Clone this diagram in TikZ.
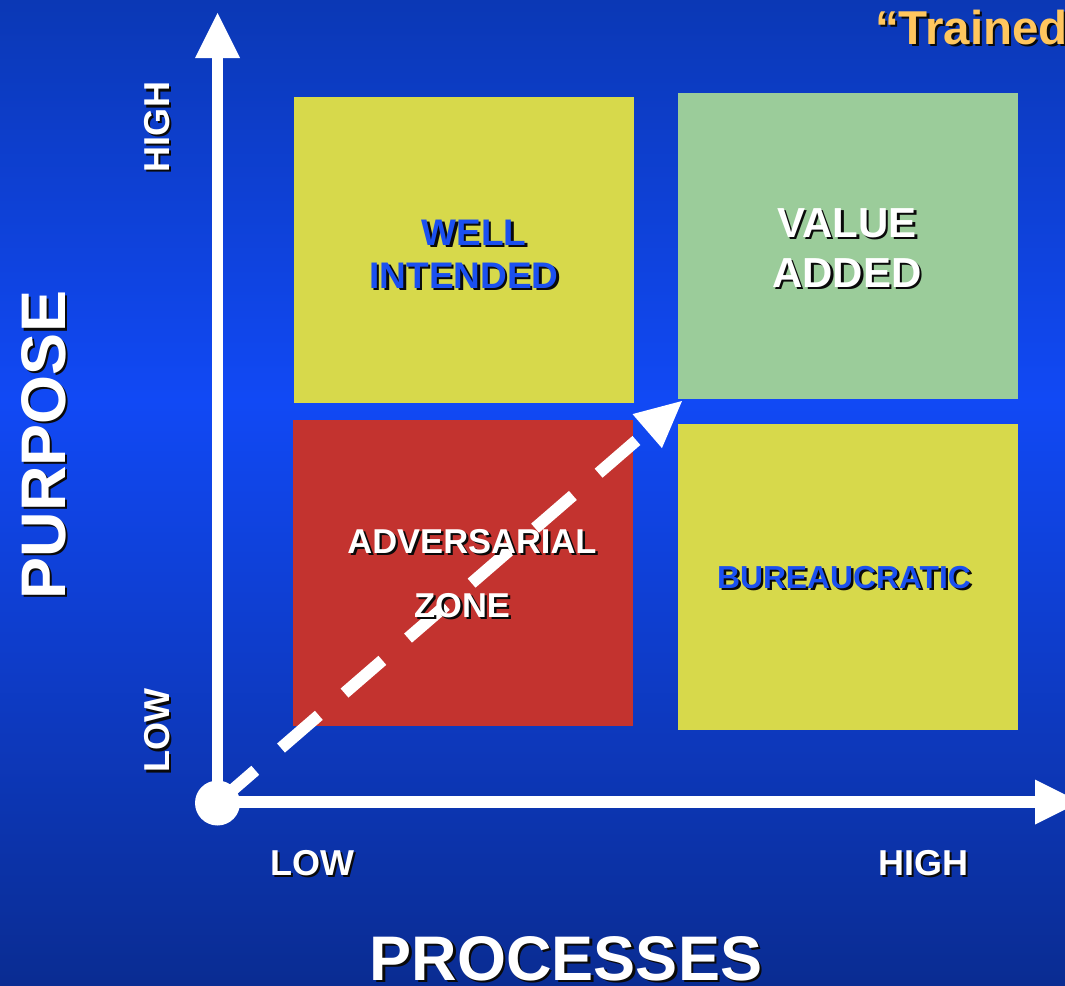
\documentclass[tikz,border=0pt]{standalone}
\usepackage{fontspec}
\setmainfont{Liberation Sans}
\usetikzlibrary{arrows.meta}

\definecolor{bgtop}{HTML}{0B38B5}
\definecolor{bgmid}{HTML}{1149F5}
\definecolor{bgbot}{HTML}{0A2C92}
\definecolor{quadyellow}{HTML}{D7D94B}
\definecolor{quadgreen}{HTML}{9BCC9A}
\definecolor{quadred}{HTML}{C3332F}
\definecolor{labelblue}{HTML}{1B50F0}
\definecolor{titleorange}{HTML}{FFC65E}
\definecolor{shadowc}{HTML}{0A0A0A}

% bold text at a given size
\newcommand\bsz[1]{\fontsize{#1pt}{#1pt}\selectfont\bfseries}

% text with a drop shadow: name, x, y, node options, colour, text
\newcommand\shtext[6]{%
  \node[#4,text=shadowc] (#1-s) at (#2+2.4,#3+2.4) {#6};
  \node[#4,text=#5] (#1) at (#2,#3) {#6};}

\begin{document}
\begin{tikzpicture}[x=1pt,y=-1pt,
  quad/.style={draw=none,inner sep=0pt,minimum width=340pt,minimum height=306pt,anchor=north west},
  axisln/.style={white,line width=11.5pt,-{Triangle[length=45pt,width=45pt,line width=0pt]}},
  dashln/.style={white,line width=12pt,dash pattern=on 50pt off 34pt,
    -{Triangle[length=46pt,width=45pt,line width=0pt]}},
  lbl/.style={inner sep=0pt,anchor=base},
]
\useasboundingbox (0,0) rectangle (1065,985);
\clip (0,0) rectangle (1065,985);

% background
\shade[top color=bgtop,bottom color=bgmid] (0,0) rectangle (1065,401);
\shade[top color=bgmid,bottom color=bgbot] (0,400) rectangle (1065,985);

% quadrants
\node[quad,fill=quadyellow] (wi) at (294,97) {};
\node[quad,fill=quadgreen]  (va) at (678,93) {};
\node[quad,fill=quadred]    (az) at (293,420) {};
\node[quad,fill=quadyellow] (bu) at (678,424) {};

% axes
\coordinate (O) at (217.5,803);
\coordinate (ytip) at (217.5,13);
\coordinate (xtip) at (1080,802);
\coordinate (dtip) at (682,401);
\draw[axisln] (O) -- (ytip);
\draw[axisln] (O |- xtip) -- (xtip);
\draw[dashln] (O) -- (dtip);
\node[circle,fill=white,inner sep=0pt,minimum size=45pt] (dot) at (O) {};

% quadrant labels
\shtext{well}{474}{245}{lbl,font=\bsz{37}}{labelblue}{WELL}
\shtext{intended}{464}{288}{lbl,font=\bsz{37}}{labelblue}{INTENDED}
\shtext{value}{847}{237}{lbl,font=\bsz{42}}{white}{VALUE}
\shtext{added}{847}{287}{lbl,font=\bsz{42}}{white}{ADDED}
\shtext{advers}{472}{553}{lbl,font=\bsz{34.5}}{white}{ADVERSARIAL}
\shtext{zone}{462}{617}{lbl,font=\bsz{34.5}}{white}{ZONE}
\shtext{bureau}{844}{588}{lbl,font=\bsz{31.8}}{labelblue}{BUREAUCRATIC}

% axis labels
\shtext{yhigh}{169}{127}{lbl,rotate=90,font=\bsz{36}}{white}{HIGH}
\shtext{ylow}{169}{731}{lbl,rotate=90,font=\bsz{36}}{white}{LOW}
\shtext{purpose}{65}{445}{lbl,rotate=90,font=\bsz{63}}{white}{PURPOSE}
\shtext{xlow}{312}{875}{lbl,font=\bsz{36}}{white}{LOW}
\shtext{xhigh}{923}{875}{lbl,font=\bsz{36}}{white}{HIGH}
\shtext{processes}{566}{980}{lbl,font=\bsz{63}}{white}{PROCESSES}

% heading
\shtext{trained}{875}{44}{inner sep=0pt,anchor=base west,font=\bsz{47.5}}{titleorange}{“Trained}
\end{tikzpicture}
\end{document}
